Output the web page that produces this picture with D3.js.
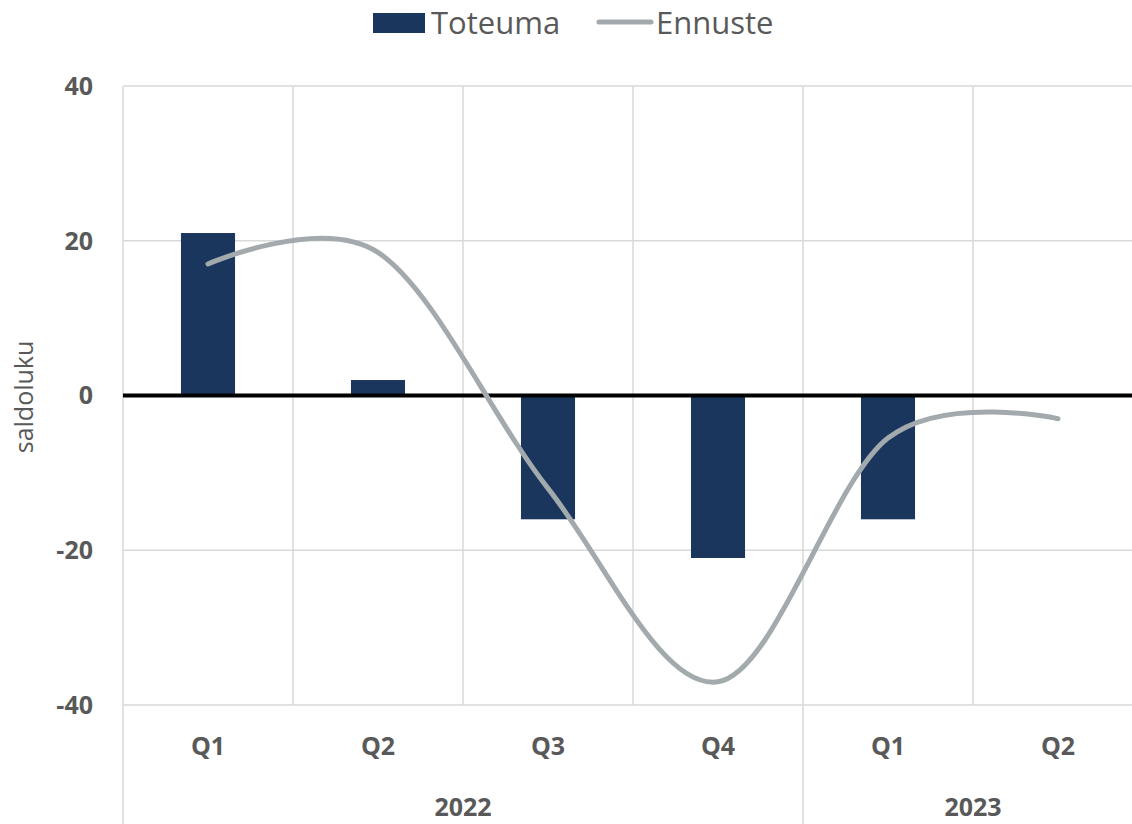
<!DOCTYPE html>
<html>
<head>
<meta charset="utf-8">
<script src="https://cdn.jsdelivr.net/npm/d3@7"></script>
<style>
  body { margin: 0; background: #fff; }
  text { font-family: "Open Sans", sans-serif; }
</style>
</head>
<body>
<div id="chart"></div>
<script>
// chart data
var quarters = ["Q1", "Q2", "Q3", "Q4", "Q1", "Q2"];
var years = ["2022", "2022", "2022", "2022", "2023", "2023"];
var toteuma = [21, 2, -16, -21, -16, null];
var ennuste = [17, 18.5, -12, -37, -5.5, -3];
var yTicks = [-40, -20, 0, 20, 40];

var width = 1132, height = 824;
var plotLeft = 123, plotRight = 1143, plotTop = 86, plotBottom = 705;
var textGrey = "#595959";

var svg = d3.select("#chart")
    .append("svg")
    .attr("width", width)
    .attr("height", height);

// scales
var xScale = d3.scaleBand()
    .domain(d3.range(quarters.length))
    .range([plotLeft, plotRight])
    .padding(0);

var yScale = d3.scaleLinear()
    .domain([-40, 40])
    .range([plotBottom, plotTop]);

var barWidth = xScale.bandwidth() * 0.318;

// horizontal gridlines
svg.append("g")
    .selectAll("line")
    .data(yTicks)
    .enter()
    .append("line")
    .attr("x1", plotLeft)
    .attr("x2", plotRight)
    .attr("y1", function(d) { return yScale(d); })
    .attr("y2", function(d) { return yScale(d); })
    .attr("stroke", "#d9d9d9")
    .attr("stroke-width", 1.5);

// vertical gridlines at category boundaries
svg.append("g")
    .selectAll("line")
    .data(d3.range(quarters.length + 1))
    .enter()
    .append("line")
    .attr("x1", function(i) { return plotLeft + i * xScale.step(); })
    .attr("x2", function(i) { return plotLeft + i * xScale.step(); })
    .attr("y1", plotTop)
    .attr("y2", function(i) {
        // year separators reach down through the label rows
        return (i == 0 || i == 4) ? height : plotBottom;
    })
    .attr("stroke", "#d9d9d9")
    .attr("stroke-width", 1.5);

// bars
svg.append("g")
    .selectAll("rect")
    .data(toteuma.map(function(v, i) { return {v: v, i: i}; }).filter(function(d) { return d.v !== null; }))
    .enter()
    .append("rect")
    .attr("x", function(d) { return xScale(d.i) + (xScale.bandwidth() - barWidth) / 2; })
    .attr("y", function(d) { return yScale(Math.max(0, d.v)); })
    .attr("width", barWidth)
    .attr("height", function(d) { return Math.abs(yScale(d.v) - yScale(0)); })
    .attr("fill", "#1b365d");

// zero line
svg.append("line")
    .attr("x1", plotLeft)
    .attr("x2", plotRight)
    .attr("y1", yScale(0))
    .attr("y2", yScale(0))
    .attr("stroke", "#000")
    .attr("stroke-width", 4);

// forecast line
var line = d3.line()
    .x(function(d, i) { return xScale(i) + xScale.bandwidth() / 2; })
    .y(function(d) { return yScale(d); })
    .curve(d3.curveCardinal.tension(0));

svg.append("path")
    .datum(ennuste)
    .attr("d", line)
    .attr("fill", "none")
    .attr("stroke", "#a2aaad")
    .attr("stroke-width", 5)
    .attr("stroke-linecap", "round");

// y axis labels
svg.append("g")
    .selectAll("text")
    .data(yTicks)
    .enter()
    .append("text")
    .attr("x", 93)
    .attr("y", function(d) { return yScale(d); })
    .attr("dy", "0.35em")
    .attr("text-anchor", "end")
    .attr("font-size", "25px")
    .attr("font-weight", "bold")
    .attr("fill", textGrey)
    .text(function(d) { return d; });

// y axis title
svg.append("text")
    .attr("transform", "translate(33,397) rotate(-90)")
    .attr("text-anchor", "middle")
    .attr("font-size", "25px")
    .attr("fill", textGrey)
    .text("saldoluku");

// quarter labels
svg.append("g")
    .selectAll("text")
    .data(quarters)
    .enter()
    .append("text")
    .attr("x", function(d, i) { return xScale(i) + xScale.bandwidth() / 2; })
    .attr("y", 746)
    .attr("dy", "0.35em")
    .attr("text-anchor", "middle")
    .attr("font-size", "25px")
    .attr("font-weight", "bold")
    .attr("fill", textGrey)
    .text(function(d) { return d; });

// year labels, centred under their quarters
var yearGroups = d3.groups(years.map(function(y, i) { return {y: y, i: i}; }), function(d) { return d.y; });
svg.append("g")
    .selectAll("text")
    .data(yearGroups)
    .enter()
    .append("text")
    .attr("x", function(g) {
        var first = g[1][0].i, last = g[1][g[1].length - 1].i;
        return (xScale(first) + xScale(last) + xScale.bandwidth()) / 2;
    })
    .attr("y", 807)
    .attr("dy", "0.35em")
    .attr("text-anchor", "middle")
    .attr("font-size", "25px")
    .attr("font-weight", "bold")
    .attr("fill", textGrey)
    .text(function(g) { return g[0]; });

// legend
var legend = svg.append("g");
legend.append("rect")
    .attr("x", 373)
    .attr("y", 13)
    .attr("width", 52)
    .attr("height", 20)
    .attr("fill", "#1b365d");
legend.append("text")
    .attr("x", 431)
    .attr("y", 23)
    .attr("dy", "0.35em")
    .attr("font-size", "31px")
    .attr("fill", textGrey)
    .text("Toteuma");
legend.append("line")
    .attr("x1", 599)
    .attr("x2", 651)
    .attr("y1", 22)
    .attr("y2", 22)
    .attr("stroke", "#a2aaad")
    .attr("stroke-width", 5)
    .attr("stroke-linecap", "round");
legend.append("text")
    .attr("x", 656)
    .attr("y", 23)
    .attr("dy", "0.35em")
    .attr("font-size", "31px")
    .attr("fill", textGrey)
    .text("Ennuste");
</script>
</body>
</html>
